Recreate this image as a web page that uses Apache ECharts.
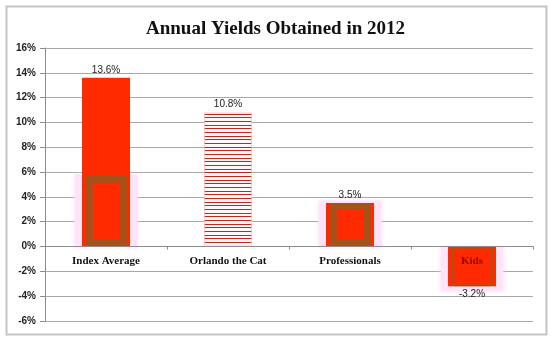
<!DOCTYPE html>
<html>
<head>
<meta charset="utf-8">
<script src="https://cdn.jsdelivr.net/npm/echarts@6/dist/echarts.min.js"></script>
<style>
html,body{margin:0;padding:0;background:#fff;}
#c{width:551px;height:337px;}
</style>
</head>
<body>
<div id="c"></div>
<script>
const categories = ['Index Average', 'Orlando the Cat', 'Professionals', 'Kids'];
const yields = [13.6, 10.8, 3.5, -3.2];
const frameValues = [5.7, null, 3.5, -3.2];
const glowValues = [5.8, null, 3.7, -3.6];
const yMin = -6, yMax = 16, yStep = 2;

// striped pattern for "Orlando the Cat"
const pc = document.createElement('canvas');
pc.width = 8; pc.height = 11;
const pctx = pc.getContext('2d');
pctx.fillStyle = '#fff8f6';
pctx.fillRect(0, 0, 8, 11);
pctx.fillStyle = '#c0281e';
[0, 4, 7].forEach(r => pctx.fillRect(0, r, 8, 1));

const chart = echarts.init(document.getElementById('c'), null, {renderer: 'canvas'});

const catData = categories.map(c => c === 'Kids'
  ? {value: c, textStyle: {color: '#8a0a0a'}}
  : c);

const hiddenAxis = {type: 'category', data: categories, show: false, position: 'bottom',
  axisLine: {onZero: false}};

chart.setOption({
  animation: false,
  backgroundColor: '#fff',
  title: {
    text: 'Annual Yields Obtained in 2012',
    left: 'center',
    top: 15,
    textStyle: {fontFamily: 'Liberation Serif', fontWeight: 'bold', fontSize: 19, color: '#111'}
  },
  graphic: [{
    type: 'rect', left: 4, top: 4, z: -1,
    shape: {width: 540, height: 328},
    style: {fill: 'none', stroke: '#c4c4c4', lineWidth: 2}
  }],
  grid: {left: 45, right: 18, top: 48, bottom: 16, containLabel: false, outerBoundsMode: 'none'},
  xAxis: [{
    type: 'category', data: catData, z: 5, position: 'bottom',
    axisLine: {onZero: true, onZeroAxisIndex: 0, lineStyle: {color: '#8c8c8c', width: 1}},
    axisTick: {show: true, length: 3, lineStyle: {color: '#8c8c8c'}},
    axisLabel: {
      margin: -65, interval: 0,
      fontFamily: 'Liberation Serif', fontWeight: 'bold', fontSize: 11, color: '#111'
    }
  }, hiddenAxis, Object.assign({}, hiddenAxis)],
  yAxis: {
    type: 'value', min: yMin, max: yMax, interval: yStep,
    axisLine: {show: true, lineStyle: {color: '#8c8c8c'}},
    axisTick: {show: true, length: 5, lineStyle: {color: '#8c8c8c'}},
    splitLine: {lineStyle: {color: '#a8a8a8', width: 1}},
    axisLabel: {
      formatter: '{value}%', margin: 9,
      fontFamily: 'Liberation Sans', fontWeight: 'bold', fontSize: 10, color: '#222'
    }
  },
  series: [{
    name: 'glow', type: 'bar', xAxisIndex: 1, barWidth: 62, z: 1,
    data: glowValues,
    itemStyle: {color: '#ffe4f7', shadowBlur: 5, shadowColor: '#ffd6f1'},
    silent: true
  }, {
    name: 'yield', type: 'bar', xAxisIndex: 0, barWidth: 48, z: 2,
    data: yields.map((v, i) => {
      const item = {value: v};
      if (i === 1) item.itemStyle = {color: {image: pc, repeat: 'repeat'}, borderColor: 'rgba(255,170,170,0.6)', borderWidth: 1};
      if (v < 0) item.label = {position: 'bottom'};
      return item;
    }),
    itemStyle: {color: '#ff2a00'},
    label: {
      show: true,
      formatter: p => p.value + '%',
      position: 'top',
      distance: 3,
      fontFamily: 'Liberation Sans', fontSize: 10, color: '#222'
    }
  }, {
    name: 'frame', type: 'bar', xAxisIndex: 2, barWidth: 41, z: 3,
    data: frameValues.map((v, i) => i === 3
      ? {value: v, itemStyle: {borderWidth: 2}}
      : v),
    itemStyle: {color: 'rgba(0,0,0,0)', borderColor: '#a5521a', borderWidth: 7},
    silent: true
  }]
});
</script>
</body>
</html>
